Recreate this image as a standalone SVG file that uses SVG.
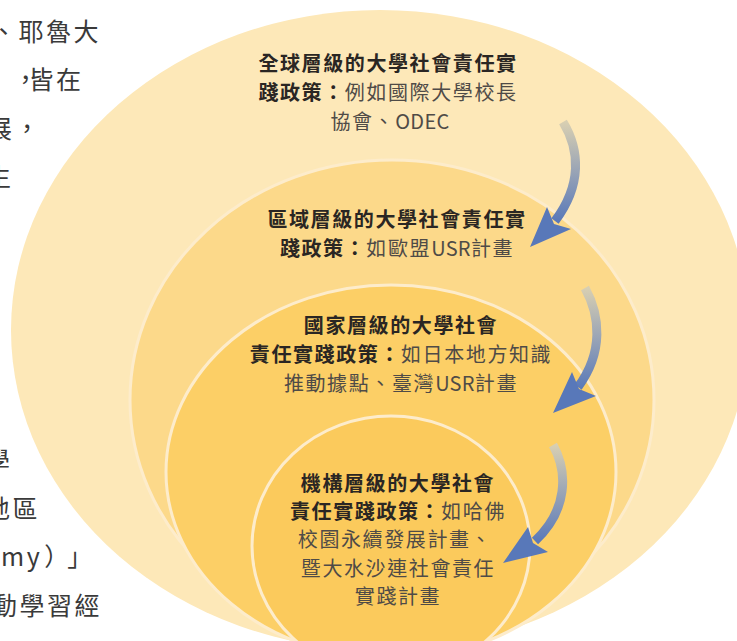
<svg xmlns="http://www.w3.org/2000/svg" width="737" height="641" viewBox="0 0 737 641">
<style>
.pg{font-family:"Noto Sans CJK TC","Noto Sans",sans-serif;font-size:25px;fill:#3a3a3a;letter-spacing:2.5px}
.t{font-family:"Noto Sans CJK TC","Noto Sans",sans-serif;font-size:20px;letter-spacing:1.6px;text-anchor:middle}
.b{font-weight:bold;fill:#2a2623}
.r{font-weight:normal;fill:#4f4b47}
.lat{letter-spacing:0.3px}
.ring{stroke:#fdeccb;stroke-width:3}
.shaft{fill:none;stroke-width:9;stroke-linecap:butt}
.head{fill:#5878b9}
</style>
<defs>
<linearGradient id="g1" gradientUnits="userSpaceOnUse" x1="0" y1="122" x2="0" y2="222"><stop offset="0" stop-color="#d8cfb2"/><stop offset="1" stop-color="#5878b9"/></linearGradient>
<linearGradient id="g2" gradientUnits="userSpaceOnUse" x1="0" y1="288" x2="0" y2="390"><stop offset="0" stop-color="#d8cfb2"/><stop offset="1" stop-color="#5878b9"/></linearGradient>
<linearGradient id="g3" gradientUnits="userSpaceOnUse" x1="0" y1="445" x2="0" y2="543"><stop offset="0" stop-color="#d8cfb2"/><stop offset="1" stop-color="#5878b9"/></linearGradient>
</defs>
<rect width="737" height="641" fill="#ffffff"/>
<g id="page-text">
<text class="pg" x="-9" y="41">、耶魯大</text>
<text class="pg" x="13" y="89" dx="0 -12">，皆在</text>
<text class="pg" x="-13" y="138" letter-spacing="0">展，</text>
<text class="pg" x="-14" y="186">生</text>
<text class="pg" x="-15" y="470">學</text>
<text class="pg" x="-15" y="518">地區</text>
<text class="pg" x="1" y="566" letter-spacing="0" dx="0 0 2 8">my）」</text>
<text class="pg" x="-8" y="615">動學習經</text>
</g>
<g id="global">
<ellipse cx="380" cy="330" rx="369" ry="320" fill="#fde8b8"/>
<text class="t b" x="388" y="71">全球層級的大學社會責任實</text>
<text class="t" x="388" y="100"><tspan class="b">踐政策：</tspan><tspan class="r">例如國際大學校長</tspan></text>
<text class="t r" x="390" y="129">協會、<tspan class="lat">ODEC</tspan></text>
</g>
<g id="regional">
<ellipse class="ring" cx="392" cy="400" rx="262" ry="240" fill="#fcd98a"/>
<text class="t b" x="397" y="227">區域層級的大學社會責任實</text>
<text class="t" x="397" y="256"><tspan class="b">踐政策：</tspan><tspan class="r">如歐盟<tspan class="lat">USR</tspan>計畫</tspan></text>
</g>
<g id="national">
<ellipse class="ring" cx="391" cy="472" rx="225" ry="187" fill="#fccf66"/>
<text class="t b" x="401" y="333">國家層級的大學社會</text>
<text class="t" x="401" y="362"><tspan class="b">責任實踐政策：</tspan><tspan class="r">如日本地方知識</tspan></text>
<text class="t r" x="401" y="391">推動據點、臺灣<tspan class="lat">USR</tspan>計畫</text>
</g>
<g id="institution">
<ellipse class="ring" cx="391" cy="546" rx="139" ry="130" fill="#fbca5c"/>
<text class="t b" x="398" y="491">機構層級的大學社會</text>
<text class="t" x="398" y="519"><tspan class="b">責任實踐政策：</tspan><tspan class="r">如哈佛</tspan></text>
<text class="t r" x="395" y="547">校園永續發展計畫、</text>
<text class="t r" x="398" y="576">暨大水沙連社會責任</text>
<text class="t r" x="398" y="604">實踐計畫</text>
</g>
<g id="connectors">
<path class="shaft" stroke="url(#g1)" d="M563,122 C580,150 582,185 555,221"/>
<path class="head" d="M530,247 L547,207 L554,224 L571,229 Z"/>
<path class="shaft" stroke="url(#g2)" d="M585,288 C600,315 604,352 578,387"/>
<path class="head" d="M553,413 L572,372 L579,389 L596,396 Z"/>
<path class="shaft" stroke="url(#g3)" d="M553,445 C568,472 568,510 535,541"/>
<path class="head" d="M503,563 L528,527 L533,543 L548,552 Z"/>
</g>
</svg>
